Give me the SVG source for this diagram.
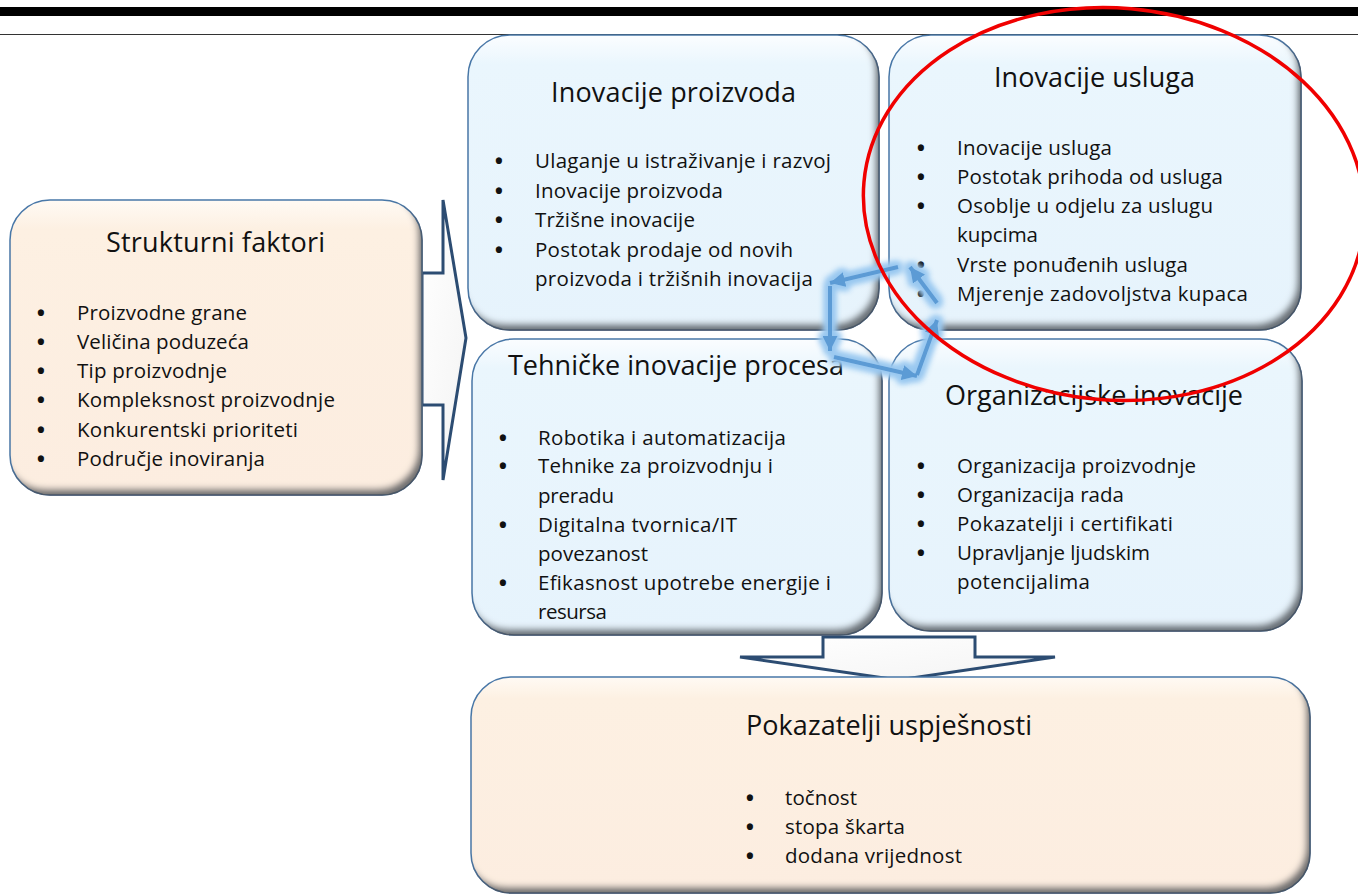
<svg xmlns="http://www.w3.org/2000/svg" width="1358" height="896" viewBox="0 0 1358 896">
<style>
text{font-family:"Open Sans","Liberation Sans",sans-serif;fill:#111}
.ti{font-size:27px;text-anchor:middle}
.b{font-size:20.5px}
.d{font-size:22px;text-anchor:middle;font-weight:bold}
.blue{fill:url(#gBlue);stroke:#4a78a8;stroke-width:1.5;filter:url(#bev)}
.peach{fill:url(#gPeach);stroke:#4a78a8;stroke-width:1.5;filter:url(#bev)}
.big{fill:url(#gArrow);stroke:#2c4c72;stroke-width:3;stroke-linejoin:miter}
.cyc{fill:none;stroke:#5b9bd5;stroke-width:4;marker-end:url(#ah)}
</style>
<defs>
<linearGradient id="gBlue" x1="0" y1="0" x2="0" y2="1">
<stop offset="0" stop-color="#fbfdff"/><stop offset="0.1" stop-color="#eaf6fd"/><stop offset="1" stop-color="#e6f3fc"/>
</linearGradient>
<linearGradient id="gPeach" x1="0" y1="0" x2="0" y2="1">
<stop offset="0" stop-color="#fffaf4"/><stop offset="0.1" stop-color="#fdf0e2"/><stop offset="1" stop-color="#fcede0"/>
</linearGradient>
<linearGradient id="gArrow" x1="0" y1="0" x2="1" y2="1">
<stop offset="0" stop-color="#ffffff"/><stop offset="0.7" stop-color="#f7f7f7"/><stop offset="1" stop-color="#d8d8d8"/>
</linearGradient>
<filter id="bev" x="-5%" y="-5%" width="110%" height="110%">
<feOffset in="SourceAlpha" dx="-5" dy="-7" result="o"/>
<feGaussianBlur in="o" stdDeviation="3" result="bl"/>
<feComposite in="SourceAlpha" in2="bl" operator="out" result="m"/>
<feFlood flood-color="#4b5158" flood-opacity="0.9"/>
<feComposite in2="m" operator="in" result="s"/>
<feMerge><feMergeNode in="SourceGraphic"/><feMergeNode in="s"/></feMerge>
</filter>
<filter id="glow" x="-30%" y="-30%" width="160%" height="160%">
<feMorphology in="SourceAlpha" operator="dilate" radius="3" result="d"/>
<feGaussianBlur in="d" stdDeviation="3" result="g"/>
<feFlood flood-color="#99c8f0" flood-opacity="1"/>
<feComposite in2="g" operator="in" result="gl"/>
<feMerge><feMergeNode in="gl"/><feMergeNode in="gl"/><feMergeNode in="SourceGraphic"/></feMerge>
</filter>
<marker id="ah" markerUnits="userSpaceOnUse" markerWidth="17" markerHeight="15" refX="15" refY="7.5" orient="auto">
<path d="M0,0 L15,7.5 L0,15 z" fill="#5b9bd5"/>
</marker>
</defs>

<g id="header">
<rect x="0" y="7" width="1358" height="9" fill="#000"/>
<line x1="0" y1="34.5" x2="1358" y2="34.5" stroke="#333" stroke-width="1"/>
</g>

<g id="connectors-block">
<path class="big" d="M422,273 L443,273 L443,200 L466,338 L443,480 L443,405 L422,405 Z"/>
<path class="big" d="M823,637 L975,637 L975,657 L1055,657 L898,680 L740,657 L823,657 Z"/>
</g>

<g id="node-performance">
<rect class="peach" x="471" y="677" width="839" height="216" rx="40"/>
<text class="ti" x="889" y="735" textLength="286">Pokazatelji uspješnosti</text>
<text class="d" x="750" y="806">•</text><text class="b" x="785" y="805" textLength="72">točnost</text>
<text class="d" x="750" y="835">•</text><text class="b" x="785" y="834" textLength="120">stopa škarta</text>
<text class="d" x="750" y="864">•</text><text class="b" x="785" y="863" textLength="177">dodana vrijednost</text>
</g>

<g id="node-structural">
<rect class="peach" x="10" y="200" width="412" height="295" rx="40"/>
<text class="ti" x="215.5" y="252" textLength="219">Strukturni faktori</text>
<text class="d" x="41" y="321">•</text><text class="b" x="77" y="320" textLength="170">Proizvodne grane</text>
<text class="d" x="41" y="350">•</text><text class="b" x="77" y="349" textLength="172">Veličina poduzeća</text>
<text class="d" x="41" y="379">•</text><text class="b" x="77" y="378" textLength="150">Tip proizvodnje</text>
<text class="d" x="41" y="408">•</text><text class="b" x="77" y="407" textLength="258">Kompleksnost proizvodnje</text>
<text class="d" x="41" y="438">•</text><text class="b" x="77" y="437" textLength="221">Konkurentski prioriteti</text>
<text class="d" x="41" y="467">•</text><text class="b" x="77" y="466" textLength="188">Područje inoviranja</text>
</g>

<g id="node-product">
<rect class="blue" x="468" y="35" width="411" height="295" rx="42"/>
<text class="ti" x="673.5" y="102" textLength="245">Inovacije proizvoda</text>
<text class="d" x="499" y="169">•</text><text class="b" x="535" y="168" textLength="296">Ulaganje u istraživanje i razvoj</text>
<text class="d" x="499" y="199">•</text><text class="b" x="535" y="198" textLength="188">Inovacije proizvoda</text>
<text class="d" x="499" y="228">•</text><text class="b" x="535" y="227" textLength="160">Tržišne inovacije</text>
<text class="d" x="499" y="258">•</text><text class="b" x="535" y="257" textLength="258">Postotak prodaje od novih</text>
<text class="b" x="535" y="286" textLength="278">proizvoda i tržišnih inovacija</text>
</g>

<g id="node-service">
<rect class="blue" x="889" y="35" width="412" height="295" rx="42"/>
<text class="ti" x="1094.5" y="87" textLength="201">Inovacije usluga</text>
<text class="d" x="921" y="156">•</text><text class="b" x="957" y="155" textLength="155">Inovacije usluga</text>
<text class="d" x="921" y="185">•</text><text class="b" x="957" y="184" textLength="266">Postotak prihoda od usluga</text>
<text class="d" x="921" y="214">•</text><text class="b" x="957" y="213" textLength="256">Osoblje u odjelu za uslugu</text>
<text class="b" x="957" y="242" textLength="81">kupcima</text>
<text class="d" x="921" y="273">•</text><text class="b" x="957" y="272" textLength="231">Vrste ponuđenih usluga</text>
<text class="d" x="921" y="302">•</text><text class="b" x="957" y="301" textLength="291">Mjerenje zadovoljstva kupaca</text>
</g>

<g id="node-process">
<rect class="blue" x="472" y="339" width="410" height="296" rx="42"/>
<text class="ti" x="676" y="375" textLength="336">Tehničke inovacije procesa</text>
<text class="d" x="503" y="446">•</text><text class="b" x="538" y="445" textLength="248">Robotika i automatizacija</text>
<text class="d" x="503" y="474">•</text><text class="b" x="538" y="473" textLength="235">Tehnike za proizvodnju i</text>
<text class="b" x="538" y="503" textLength="76">preradu</text>
<text class="d" x="503" y="533">•</text><text class="b" x="538" y="532" textLength="199">Digitalna tvornica/IT</text>
<text class="b" x="538" y="561" textLength="110">povezanost</text>
<text class="d" x="503" y="591">•</text><text class="b" x="538" y="590" textLength="293">Efikasnost upotrebe energije i</text>
<text class="b" x="538" y="619" textLength="69">resursa</text>
</g>

<g id="node-organisation">
<rect class="blue" x="889" y="339" width="413" height="292" rx="42"/>
<text class="ti" x="1094" y="405" textLength="298">Organizacijske inovacije</text>
<text class="d" x="921" y="474">•</text><text class="b" x="957" y="473" textLength="239">Organizacija proizvodnje</text>
<text class="d" x="921" y="503">•</text><text class="b" x="957" y="502" textLength="167">Organizacija rada</text>
<text class="d" x="921" y="532">•</text><text class="b" x="957" y="531" textLength="216">Pokazatelji i certifikati</text>
<text class="d" x="921" y="561">•</text><text class="b" x="957" y="560" textLength="193">Upravljanje ljudskim</text>
<text class="b" x="957" y="589" textLength="133">potencijalima</text>
</g>

<g id="connectors-cycle" filter="url(#glow)">
<line class="cyc" x1="898" y1="267" x2="830" y2="283"/>
<line class="cyc" x1="830" y1="286" x2="830" y2="351"/>
<line class="cyc" x1="834" y1="357" x2="917" y2="376"/>
<line class="cyc" x1="917" y1="375" x2="937" y2="320"/>
<line class="cyc" x1="937" y1="303" x2="910" y2="267"/>
</g>

<g id="highlight">
<ellipse cx="1114" cy="204" rx="251" ry="196" transform="rotate(5 1114 204)" fill="none" stroke="#f00000" stroke-width="3.5"/>
</g>
</svg>
